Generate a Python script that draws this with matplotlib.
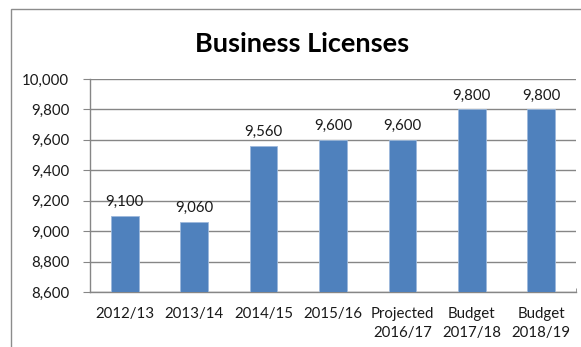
import matplotlib
matplotlib.use("Agg")
import matplotlib.pyplot as plt
from matplotlib.patches import Rectangle
from matplotlib.ticker import FuncFormatter

plt.rcParams['font.family'] = ['Lato', 'DejaVu Sans']

categories = ["2012/13", "2013/14", "2014/15", "2015/16",
              "Projected\n2016/17", "Budget\n2017/18", "Budget\n2018/19"]
values = [9100, 9060, 9560, 9600, 9600, 9800, 9800]
y_ticks = [8600, 8800, 9000, 9200, 9400, 9600, 9800, 10000]

W, H = 581, 347
fig = plt.figure(figsize=(W / 100, H / 100), dpi=100)

# chart frame (extends past the right and bottom edges)
fig.patches.append(Rectangle((11 / W, -0.1), 1.2, (H - 9) / H + 0.1,
                             transform=fig.transFigure, fill=False,
                             edgecolor="#8c8c8c", linewidth=1.0))

ax = fig.add_axes([90 / W, (H - 292) / H, (576 - 90) / W, (292 - 79) / H])

grid_col = "#868686"
x = range(len(categories))
ax.bar(x, values, width=0.4, color="#4f81bd", edgecolor="#9db9dc",
       linewidth=0.6, zorder=3)

for xi, v in zip(x, values):
    ax.annotate(f"{v:,}", (xi, v), xytext=(0, 5), textcoords="offset points",
                ha="center", va="bottom", fontsize=10.8, color="#1a1a1a")

ax.set_xlim(-0.5, len(categories) - 0.5)
ax.set_ylim(y_ticks[0], y_ticks[-1])
ax.set_yticks(y_ticks)
ax.yaxis.set_major_formatter(FuncFormatter(lambda v, p: f"{int(v):,}"))
ax.set_xticks(list(x))
ax.set_xticklabels(categories, fontsize=10.8, color="#1a1a1a", linespacing=1.45)
ax.set_xticks([len(categories) - 0.5], minor=True)

ax.yaxis.grid(True, color=grid_col, linewidth=1.0, zorder=0)
ax.set_axisbelow(True)
for side in ("top", "right"):
    ax.spines[side].set_visible(False)
for side in ("left", "bottom"):
    ax.spines[side].set_color(grid_col)
    ax.spines[side].set_linewidth(1.0)

ax.tick_params(axis="y", length=5, color=grid_col, labelsize=10.8,
               labelcolor="#1a1a1a", pad=10)
ax.tick_params(axis="x", which="both", direction="in", length=3,
               color=grid_col, pad=11)

fig.text(302 / W, 1 - 44 / H, "Business Licenses", ha="center", va="center",
         fontsize=19.5, fontweight="bold", color="black")

fig.savefig("out.png", dpi=100)
